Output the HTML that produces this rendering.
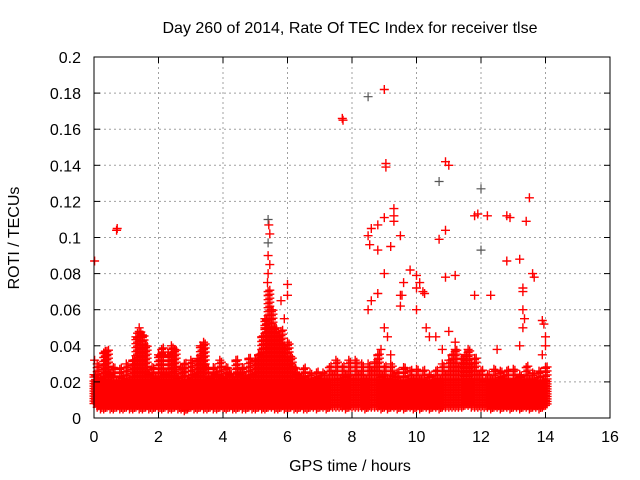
<!DOCTYPE html>
<html><head><meta charset="utf-8"><style>
body{margin:0;background:#fff;}
svg{display:block;font-family:"Liberation Sans",sans-serif;}
</style></head><body>
<svg id="chart" width="640" height="480" viewBox="0 0 640 480" xmlns="http://www.w3.org/2000/svg">
<rect x="0" y="0" width="640" height="480" fill="#fff"/>
<text x="350" y="33" font-size="16" text-anchor="middle" fill="#000">Day 260 of 2014, Rate Of TEC Index for receiver tlse</text>
<text transform="translate(19,238) rotate(-90)" font-size="16" text-anchor="middle" fill="#000">ROTI / TECUs</text>
<text x="350" y="471" font-size="16" text-anchor="middle" fill="#000">GPS time / hours</text>
<g id="grid"></g>
<g id="marks"></g>
<g id="axes"></g>
</svg>
<script>
const xTicks=[0,2,4,6,8,10,12,14,16];
const yTicks=[0,0.02,0.04,0.06,0.08,0.1,0.12,0.14,0.16,0.18,0.2];
const yTickLabels=["0","0.02","0.04","0.06","0.08","0.1","0.12","0.14","0.16","0.18","0.2"];
// band envelope per 0.1 h, thousandths of TECU
const bandHours=[0,0.1,0.2,0.3,0.4,0.5,0.6,0.7,0.8,0.9,1.0,1.1,1.2,1.3,1.4,1.5,1.6,1.7,1.8,1.9,2.0,2.1,2.2,2.3,2.4,2.5,2.6,2.7,2.8,2.9,3.0,3.1,3.2,3.3,3.4,3.5,3.6,3.7,3.8,3.9,4.0,4.1,4.2,4.3,4.4,4.5,4.6,4.7,4.8,4.9,5.0,5.1,5.2,5.3,5.4,5.5,5.6,5.7,5.8,5.9,6.0,6.1,6.2,6.3,6.4,6.5,6.6,6.7,6.8,6.9,7.0,7.1,7.2,7.3,7.4,7.5,7.6,7.7,7.8,7.9,8.0,8.1,8.2,8.3,8.4,8.5,8.6,8.7,8.8,8.9,9.0,9.1,9.2,9.3,9.4,9.5,9.6,9.7,9.8,9.9,10.0,10.1,10.2,10.3,10.4,10.5,10.6,10.7,10.8,10.9,11.0,11.1,11.2,11.3,11.4,11.5,11.6,11.7,11.8,11.9,12.0,12.1,12.2,12.3,12.4,12.5,12.6,12.7,12.8,12.9,13.0,13.1,13.2,13.3,13.4,13.5,13.6,13.7,13.8,13.9,14.0];
const bandHi=[24,30,22,36,37,24,28,20,27,22,30,21,32,45,48,46,40,24,28,22,35,38,24,35,40,38,22,28,30,21,32,24,33,40,42,28,22,28,24,32,22,28,24,21,32,24,28,22,33,24,32,35,45,55,70,60,50,45,48,40,42,34,28,24,22,27,21,25,20,25,22,25,21,28,24,32,22,28,24,32,22,32,24,30,22,30,26,31,35,24,28,22,30,23,25,21,28,20,26,22,27,21,26,20,24,21,26,22,30,24,32,35,38,28,33,35,38,30,33,24,26,20,24,21,27,20,26,22,26,20,27,22,24,20,28,21,25,20,26,21,28];
const bandLo=[8,6,5,5,6,5,5,6,5,5,6,5,5,6,5,5,6,5,5,6,5,5,6,5,5,6,5,5,4,5,6,5,5,6,5,5,6,5,5,6,5,5,6,5,5,6,5,5,6,5,5,6,5,5,6,6,5,5,6,5,5,6,5,5,6,5,5,6,6,5,6,6,5,6,6,6,6,6,5,6,6,6,6,6,5,6,6,6,6,5,6,5,6,6,5,6,5,6,6,5,6,5,6,6,5,6,6,5,6,6,6,6,6,6,6,7,7,6,6,6,6,6,6,5,6,6,5,6,6,5,6,6,5,6,6,5,6,6,5,6,7];
const outHours=[0.02,0.7,0.72,5.4,5.42,5.4,5.45,5.4,5.45,5.4,5.38,5.4,6.0,6.0,5.8,7.7,7.72,8.5,9.0,9.05,9.05,8.6,8.8,9.0,9.3,9.3,9.3,9.5,9.2,8.5,8.55,8.8,9.0,9.8,10.0,10.0,10.2,9.5,9.5,8.8,10.1,10.7,10.9,11.0,10.7,10.9,11.2,10.9,11.9,11.8,11.8,12.0,12.0,12.2,12.3,12.8,12.9,12.8,13.2,13.4,13.5,13.6,13.65,13.3,13.3,13.3,13.35,13.3,13.2,13.9,13.95,14.0,14.0,13.9,9.0,9.1,8.9,9.2,10.3,10.4,10.6,11.0,10.8,12.5,5.9,5.5,5.3,1.4,1.35,0.35,0.4,0.02,10.0,9.6,11.2,8.5,8.6,10.25,9.55];
const outVals=[0.087,0.104,0.105,0.11,0.107,0.097,0.102,0.09,0.085,0.08,0.075,0.068,0.074,0.068,0.065,0.166,0.165,0.178,0.182,0.141,0.139,0.105,0.107,0.111,0.116,0.112,0.109,0.101,0.095,0.101,0.096,0.093,0.08,0.082,0.079,0.072,0.07,0.068,0.062,0.069,0.075,0.131,0.142,0.14,0.099,0.104,0.079,0.078,0.113,0.112,0.068,0.127,0.093,0.112,0.068,0.112,0.111,0.087,0.088,0.109,0.122,0.08,0.078,0.072,0.07,0.06,0.055,0.05,0.04,0.054,0.052,0.045,0.04,0.035,0.05,0.045,0.038,0.035,0.05,0.045,0.045,0.048,0.038,0.038,0.055,0.055,0.05,0.05,0.047,0.037,0.035,0.032,0.06,0.075,0.042,0.06,0.065,0.069,0.068];
const outDark=[17,41,51,52,3,5];

const L=94,R=610,T=57,B=418;
const xs=v=>L+(v/16)*(R-L);
const ys=v=>B-(v/0.2)*(B-T);
const NS="http://www.w3.org/2000/svg";
const grid=document.getElementById('grid'),axes=document.getElementById('axes'),marks=document.getElementById('marks');
function mk(tag,attrs,parent){const e=document.createElementNS(NS,tag);for(const k in attrs)e.setAttribute(k,attrs[k]);parent.appendChild(e);return e;}
xTicks.forEach((t,i)=>{const x=xs(t);
 if(i>0&&i<xTicks.length-1){const g=mk('line',{x1:x,y1:T,x2:x,y2:B,stroke:'#a0a0a0','stroke-dasharray':'2,3','stroke-width':1},grid);
 
 }
 mk('line',{x1:x,y1:B,x2:x,y2:B-6,stroke:'#000'},axes);
 mk('line',{x1:x,y1:T,x2:x,y2:T+6,stroke:'#000'},axes);
 const tx=mk('text',{x:x,y:B+24,'font-size':16,'text-anchor':'middle',fill:'#000'},axes);tx.textContent=t;
 
 
});
yTicks.forEach((t,i)=>{const y=ys(t);
 if(i>0&&i<yTicks.length-1){const g=mk('line',{x1:L,y1:y,x2:R,y2:y,stroke:'#a0a0a0','stroke-dasharray':'2,3','stroke-width':1},grid);
 
 }
 mk('line',{x1:L,y1:y,x2:L+6,y2:y,stroke:'#000'},axes);
 mk('line',{x1:R,y1:y,x2:R-6,y2:y,stroke:'#000'},axes);
 const tx=mk('text',{x:L-13,y:y+6,'font-size':16,'text-anchor':'end',fill:'#000'},axes);tx.textContent=yTickLabels[i];
 
 
});
const fr=mk('rect',{x:L,y:T,width:R-L,height:B-T,fill:'none',stroke:'#000','stroke-width':1},axes);


let d='',dd='';
function plus(x,y){return `M${(x-4.5).toFixed(1)} ${y.toFixed(1)}h9M${x.toFixed(1)} ${(y-4.5).toFixed(1)}v9`;}
const core=ys(0.02);
bandHours.forEach((h,i)=>{const x=xs(h);const y0=ys(bandLo[i]/1000),y1=ys(bandHi[i]/1000);
 for(let y=y0;y>=y1;y-=(y>core?2.5:4)){d+=plus(x,y);d+=plus(x+1.6,y-1.5);}
 d+=plus(x,y1);
});
outHours.forEach((h,i)=>{const p=plus(xs(h),ys(outVals[i]));if(outDark.includes(i))dd+=p;else d+=p;});
const pr=mk('path',{d:d,stroke:'#ff0000','stroke-width':1.4,fill:'none'},marks);


const pd=mk('path',{d:dd,stroke:'#555','stroke-width':1.2,fill:'none'},marks);


</script>
</body></html>
